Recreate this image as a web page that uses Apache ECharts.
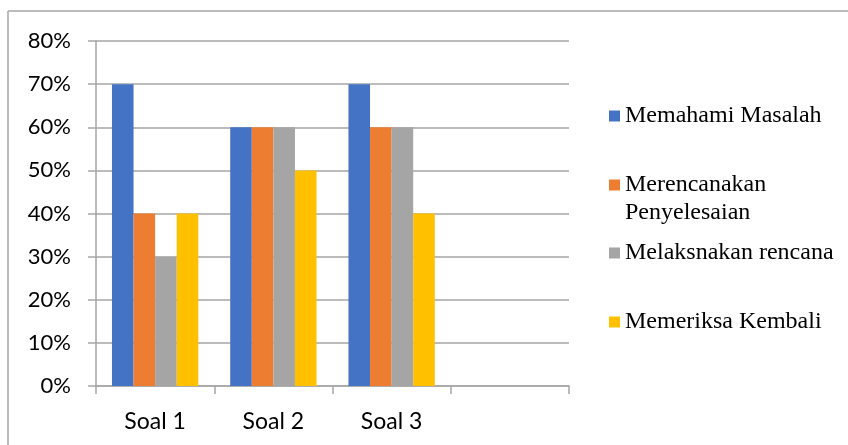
<!DOCTYPE html>
<html>
<head>
<meta charset="utf-8">
<style>html,body{margin:0;padding:0;background:#fff;}#c{width:848px;height:445px;}</style>
<script src="https://cdn.jsdelivr.net/npm/echarts@6/dist/echarts.min.js"></script>
</head>
<body>
<div id="c"></div>
<script>
const categories = ['Soal 1', 'Soal 2', 'Soal 3', ''];
const seriesNames = ['Memahami Masalah', 'Merencanakan\nPenyelesaian', 'Melaksnakan rencana', 'Memeriksa Kembali'];
const memahami = [70, 60, 70, null];
const merencanakan = [40, 60, 60, null];
const melaksanakan = [30, 60, 60, null];
const memeriksa = [40, 50, 40, null];
const yTicks = { min: 0, max: 80, interval: 10 };

const colors = ['#4472C4', '#ED7D31', '#A5A5A5', '#FFC000'];
const values = [memahami, merencanakan, melaksanakan, memeriksa];
const legendTops = [102, 143, 239, 308];

const chart = echarts.init(document.getElementById('c'));
chart.setOption({
  animation: false,
  backgroundColor: '#fff',
  color: colors,
  grid: { left: 96, right: 279, top: 41, bottom: 59, containLabel: false },
  xAxis: {
    type: 'category',
    data: categories,
    axisLine: { lineStyle: { color: '#a6a6a6', width: 1.5 } },
    axisTick: { show: true, length: 8, lineStyle: { color: '#a6a6a6', width: 1.5 } },
    axisLabel: { color: '#000', fontFamily: 'Lato', fontSize: 23, margin: 24 },
    splitLine: { show: false }
  },
  yAxis: {
    type: 'value',
    min: yTicks.min, max: yTicks.max, interval: yTicks.interval,
    axisLine: { show: true, lineStyle: { color: '#a6a6a6', width: 1.5 } },
    axisTick: { show: true, length: 8, lineStyle: { color: '#a6a6a6', width: 1.5 } },
    axisLabel: { formatter: '{value}%', color: '#000', fontFamily: 'Lato', fontSize: 22, margin: 25 },
    splitLine: { lineStyle: { color: '#a6a6a6', width: 1.5 } }
  },
  legend: seriesNames.map((n, i) => ({
    data: [n],
    orient: 'vertical',
    left: 609,
    top: legendTops[i],
    padding: 0,
    icon: 'rect',
    itemWidth: 11,
    itemHeight: 11,
    itemGap: 0,
    selectedMode: false,
    formatter: name => (name.indexOf('\n') >= 0 ? '\n' + name : name),
    textStyle: {
      fontFamily: 'Liberation Serif', fontSize: 24, color: '#000', lineHeight: 28
    }
  })),
  series: seriesNames.map((n, i) => ({
    name: n,
    type: 'bar',
    data: values[i],
    barGap: 0,
    barCategoryGap: '27%',
    itemStyle: { color: colors[i] }
  })),
  graphic: [
    { type: 'line', shape: { x1: 8, y1: 11, x2: 848, y2: 11 }, style: { stroke: '#a6a6a6', lineWidth: 1.5 } },
    { type: 'line', shape: { x1: 8, y1: 11, x2: 8, y2: 445 }, style: { stroke: '#a6a6a6', lineWidth: 1.5 } }
  ]
});
</script>
</body>
</html>
